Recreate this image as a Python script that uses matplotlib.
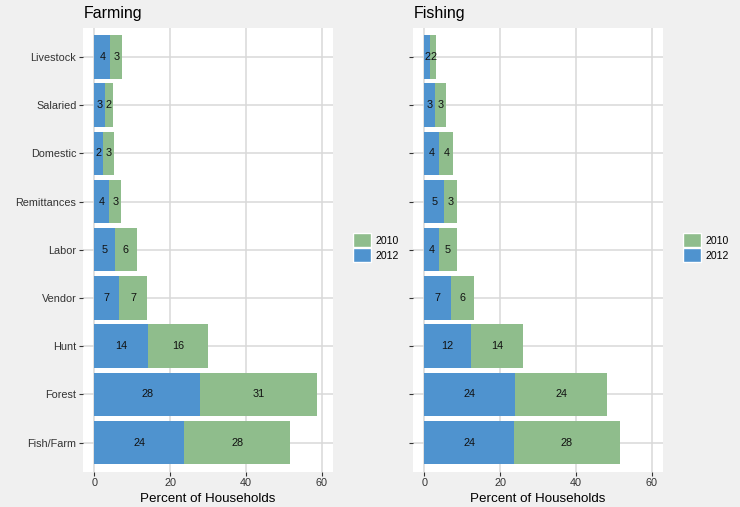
import matplotlib.pyplot as plt
import matplotlib.patches as mpatches

plt.rcParams['font.family'] = ['Liberation Sans', 'DejaVu Sans']

categories = ['Livestock', 'Salaried', 'Domestic', 'Remittances', 'Labor',
              'Vendor', 'Hunt', 'Forest', 'Fish/Farm']

# percent of households
farming_2012 = [4.2, 2.7, 2.4, 3.9, 5.4, 6.6, 14.2, 27.9, 23.7]
farming_2010 = [3.2, 2.3, 2.8, 3.2, 5.9, 7.2, 15.8, 30.8, 27.9]
fishing_2012 = [1.6, 2.9, 4.0, 5.3, 3.8, 7.0, 12.3, 24.0, 23.7]
fishing_2010 = [1.6, 2.8, 3.6, 3.4, 4.9, 6.0, 13.8, 24.2, 27.8]

blue = '#4f93cf'
green = '#8fbd8c'
bg = '#f0f0f0'
grid = '#d9d9d9'
txt = '#333333'

fig = plt.figure(figsize=(7.40, 5.07), dpi=100, facecolor=bg)

W, H = 740.0, 507.0
panels = [
    ('Farming', farming_2012, farming_2010, 83.3, True, 353),
    ('Fishing', fishing_2012, fishing_2010, 413.3, False, 683),
]

for title, v12, v10, left, show_labels, leg_x in panels:
    ax = fig.add_axes([left / W, (H - 471.5) / H, (333 - 83.3) / W, (471.5 - 28) / H])
    ax.set_facecolor('white')
    ypos = list(range(len(categories)))[::-1]
    b12 = ax.barh(ypos, v12, height=0.9, color=blue, zorder=2)
    b10 = ax.barh(ypos, v10, left=v12, height=0.9, color=green, zorder=2)
    ax.bar_label(b12, labels=[str(int(round(v))) for v in v12], label_type='center',
                 fontsize=7.8, color='#111111')
    ax.bar_label(b10, labels=[str(int(round(v))) for v in v10], label_type='center',
                 fontsize=7.8, color='#111111')

    ax.set_xlim(-2.9, 62.9)
    ax.set_ylim(-0.6, 8.6)
    ax.set_xticks([0, 20, 40, 60])
    ax.set_yticks(ypos)
    if show_labels:
        ax.set_yticklabels(categories)
    else:
        ax.set_yticklabels([])
    ax.grid(True, color=grid, linewidth=1.1, zorder=0)
    ax.set_axisbelow(True)
    for s in ax.spines.values():
        s.set_visible(False)
    ax.tick_params(length=3, color=txt, labelcolor=txt, labelsize=7.8, pad=2)
    ax.set_xlabel('Percent of Households', fontsize=9.6, color='black', labelpad=3)
    ax.set_title(title, loc='left', fontsize=11.5, color='black', pad=7)

    handles = [mpatches.Patch(facecolor=green, edgecolor='white', label='2010'),
               mpatches.Patch(facecolor=blue, edgecolor='white', label='2012')]
    fig.legend(handles=handles, loc='upper left', bbox_to_anchor=(leg_x / W, 1 - 233 / H),
               frameon=False, fontsize=7.6, handlelength=1.72, handleheight=1.72,
               labelspacing=0.05, handletextpad=0.4, borderpad=0, borderaxespad=0)

fig.savefig('out.png', dpi=100, facecolor=bg)
